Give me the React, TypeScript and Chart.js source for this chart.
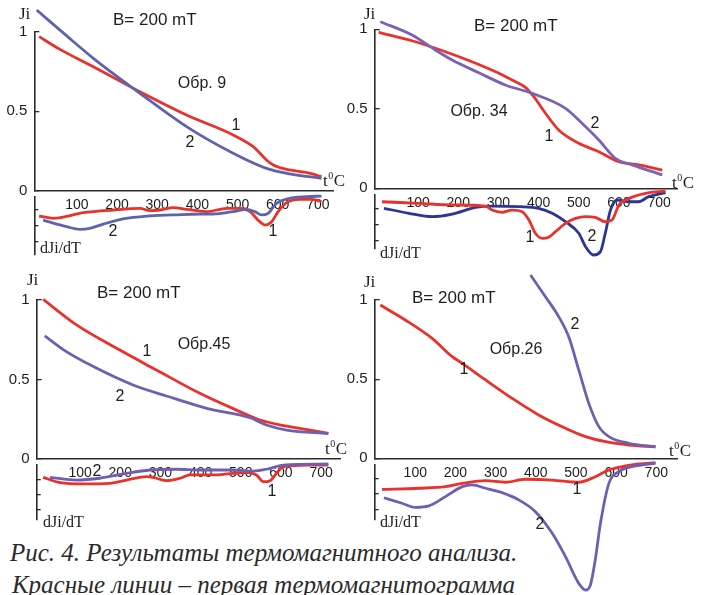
import React, { useEffect, useRef } from 'react';
import { Chart, registerables } from 'chart.js';

Chart.register(...registerables);

type Pt = [number, number];

// ---- Data: [temperature °C, value] ----
// Обр. 9
const s9Ji1: Pt[] = [[6,0.969],[58,0.889],[141,0.780],[257,0.623],[373,0.477],[489,0.352],[539,0.278],[572,0.195],[589,0.163],[630,0.132],[681,0.111],[709,0.090]];
const s9Ji2: Pt[] = [[0,1.136],[74,0.975],[141,0.833],[257,0.613],[373,0.404],[489,0.237],[572,0.142],[630,0.107],[709,0.080]];
const s9d1: Pt[] = [[6,-1.38],[41,-1.52],[116,-1.17],[190,-1.0],[257,-0.9],[282,-1.04],[307,-1.0],[340,-0.85],[373,-0.96],[423,-1.1],[473,-0.9],[506,-0.9],[531,-1.1],[551,-1.63],[568,-1.94],[585,-1.73],[601,-1.1],[622,-0.54],[655,-0.33],[684,-0.33],[709,-0.48]];
const s9d2: Pt[] = [[16,-1.63],[74,-2.04],[108,-2.21],[132,-2.15],[166,-1.88],[215,-1.56],[274,-1.38],[340,-1.31],[406,-1.25],[439,-1.25],[489,-1.1],[523,-0.96],[543,-1.1],[560,-1.31],[576,-1.21],[597,-0.58],[630,-0.27],[672,-0.17],[709,-0.13]];
// Обр. 34
const s34Ji1: Pt[] = [[2,0.981],[85,0.928],[168,0.859],[234,0.796],[293,0.733],[334,0.681],[367,0.635],[388,0.576],[417,0.472],[450,0.367],[500,0.283],[550,0.230],[600,0.167],[649,0.147],[708,0.115]];
const s34Ji2: Pt[] = [[6,1.048],[85,0.964],[143,0.870],[185,0.807],[251,0.727],[317,0.650],[384,0.597],[467,0.503],[508,0.409],[550,0.304],[591,0.189],[633,0.147],[708,0.084]];
const s34d1: Pt[] = [[10,-0.59],[102,-0.69],[185,-0.79],[268,-0.86],[284,-1.11],[309,-1.25],[334,-1.11],[359,-1.21],[376,-1.73],[392,-2.56],[409,-2.88],[425,-2.81],[442,-2.46],[467,-1.94],[492,-1.63],[517,-1.52],[541,-1.56],[566,-1.84],[583,-1.73],[600,-0.79],[625,-0.38],[666,-0.06],[716,0.08]];
const s34d2: Pt[] = [[15,-1.0],[77,-1.31],[135,-1.52],[185,-1.36],[243,-0.94],[284,-0.86],[351,-0.9],[400,-1.0],[434,-1.31],[467,-1.84],[500,-2.56],[517,-3.40],[537,-3.92],[554,-3.71],[566,-2.56],[579,-1.11],[595,-0.48],[625,-0.59],[649,-0.59],[674,-0.27],[716,-0.02]];
// Обр.45
const s45Ji1: Pt[] = [[8,1.004],[91,0.843],[191,0.696],[290,0.560],[398,0.413],[498,0.298],[548,0.245],[597,0.214],[647,0.193],[718,0.161]];
const s45Ji2: Pt[] = [[12,0.774],[66,0.675],[133,0.581],[232,0.465],[315,0.396],[415,0.319],[523,0.260],[564,0.214],[614,0.182],[718,0.161]];
const s45d1: Pt[] = [[8,-0.87],[50,-1.22],[108,-1.31],[174,-1.27],[216,-1.05],[266,-0.82],[290,-0.93],[315,-1.09],[349,-0.93],[373,-0.71],[431,-0.71],[481,-0.60],[515,-0.56],[539,-0.71],[556,-1.16],[573,-1.09],[589,-0.60],[606,-0.16],[664,-0.05],[718,-0.05]];
const s45d2: Pt[] = [[25,-0.87],[91,-1.05],[149,-0.93],[216,-0.60],[274,-0.38],[340,-0.33],[398,-0.38],[481,-0.38],[531,-0.45],[564,-0.33],[606,-0.05],[718,0.02]];
// Обр.26
const s26Ji1: Pt[] = [[13,0.968],[75,0.874],[142,0.758],[192,0.642],[217,0.600],[275,0.495],[341,0.379],[407,0.274],[474,0.190],[524,0.137],[574,0.105],[632,0.084],[698,0.073]];
const s26Ji2: Pt[] = [[387,1.158],[424,1.021],[457,0.895],[482,0.768],[507,0.558],[532,0.347],[557,0.200],[582,0.137],[632,0.095],[698,0.073]];
const s26d1: Pt[] = [[17,-1.70],[109,-1.63],[175,-1.53],[217,-1.32],[275,-1.15],[324,-1.25],[374,-1.06],[441,-1.11],[507,-1.25],[548,-0.90],[582,-0.47],[623,-0.22],[656,-0.09],[698,-0.01]];
const s26d2: Pt[] = [[22,-2.23],[67,-2.58],[100,-2.84],[134,-2.75],[175,-2.16],[217,-1.53],[241,-1.42],[275,-1.63],[316,-1.91],[358,-2.37],[399,-3.11],[441,-4.48],[474,-5.96],[507,-7.65],[524,-8.07],[536,-7.75],[548,-6.17],[561,-3.85],[582,-1.32],[607,-0.58],[648,-0.22],[698,-0.05]];

const xTickValues = [100, 200, 300, 400, 500, 600, 700];
const jiTickValues = [0, 0.5, 1];
const dTickValues = [-1, -2, -3];
const sampleNames = ['Обр. 9', 'Обр. 34', 'Обр.45', 'Обр.26'];
const fieldLabel = 'B= 200 mT';
const captionLines = [
  'Рис. 4. Результаты термомагнитного анализа.',
  'Красные линии – первая термомагнитограмма',
];

// ---- styling / layout ----
const SANS = '"Liberation Sans", Arial, sans-serif';
const SERIF = '"Liberation Serif", "Times New Roman", serif';
const RED = '#e8322b';
const AXIS = '#2b2b2b';
const AXW = 30;          // width reserved for the left axes
const PXD = 0.4017;      // pixels per degree

interface Series { pts: Pt[]; axis: 'y' | 'yd'; color: string; }
interface Panel {
  left: number; top: number; w: number; h: number;
  axisX: number; jiTop: number; jiBottom: number; ydTop: number; ydBottom: number;
  xRight: number; xMin: number; dZero: number; dUnit: number;
  series: Series[];
  name: string; nameAt: [number, number]; titleAt: [number, number];
  jiAt: [number, number]; tcAt: [number, number]; dAt: [number, number];
  curveLabels: [string, number, number][];
}

const panels: Panel[] = [
  {
    left: 0, top: 0, w: 352, h: 282,
    axisX: 34.3, jiTop: 31.7, jiBottom: 191, ydTop: 197, ydBottom: 255,
    xRight: 333, xMin: -6, dZero: 194, dUnit: 16,
    series: [
      { pts: s9Ji2, axis: 'y', color: '#5f63ad' }, { pts: s9Ji1, axis: 'y', color: RED },
      { pts: s9d2, axis: 'yd', color: '#5f63ad' }, { pts: s9d1, axis: 'yd', color: RED },
    ],
    name: sampleNames[0], nameAt: [202, 84], titleAt: [113, 20], jiAt: [19, 15], tcAt: [323, 180], dAt: [40, 249],
    curveLabels: [['1', 236, 126], ['2', 190, 143], ['1', 273, 232], ['2', 113, 232]],
  },
  {
    left: 340, top: 0, w: 365, h: 282,
    axisX: 374.7, jiTop: 29.3, jiBottom: 188.3, ydTop: 195, ydBottom: 248.3,
    xRight: 677, xMin: -8, dZero: 192.3, dUnit: 16,
    series: [
      { pts: s34Ji2, axis: 'y', color: '#7a63b6' }, { pts: s34Ji1, axis: 'y', color: RED },
      { pts: s34d1, axis: 'yd', color: RED }, { pts: s34d2, axis: 'yd', color: '#2b3594' },
    ],
    name: sampleNames[1], nameAt: [479, 112], titleAt: [474, 26], jiAt: [364, 15], tcAt: [672, 182], dAt: [380, 254],
    curveLabels: [['1', 549, 137], ['2', 595, 124], ['1', 530, 238], ['2', 592, 237]],
  },
  {
    left: 0, top: 270, w: 352, h: 292,
    axisX: 36.7, jiTop: 300, jiBottom: 459, ydTop: 465, ydBottom: 520,
    xRight: 340, xMin: -8, dZero: 464.3, dUnit: 15,
    series: [
      { pts: s45Ji2, axis: 'y', color: '#6f5fb3' }, { pts: s45Ji1, axis: 'y', color: RED },
      { pts: s45d2, axis: 'yd', color: '#6f5fb3' }, { pts: s45d1, axis: 'yd', color: RED },
    ],
    name: sampleNames[2], nameAt: [204, 345], titleAt: [97, 293], jiAt: [27, 281], tcAt: [325, 448], dAt: [43, 523],
    curveLabels: [['1', 147, 352], ['2', 120, 397], ['1', 272, 492], ['2', 97, 472]],
  },
  {
    left: 340, top: 270, w: 365, h: 325,
    axisX: 374.7, jiTop: 300, jiBottom: 458.3, ydTop: 465, ydBottom: 520,
    xRight: 677, xMin: -1, dZero: 462.5, dUnit: 15.8,
    series: [
      { pts: s26Ji2, axis: 'y', color: '#6f5fb3' }, { pts: s26Ji1, axis: 'y', color: RED },
      { pts: s26d2, axis: 'yd', color: '#6f5fb3' }, { pts: s26d1, axis: 'yd', color: RED },
    ],
    name: sampleNames[3], nameAt: [516, 350], titleAt: [412, 298], jiAt: [364, 283], tcAt: [669, 450], dAt: [380, 523],
    curveLabels: [['2', 575, 325], ['1', 464, 370], ['1', 577, 490], ['2', 540, 525]],
  },
];

function PanelChart({ p }: { p: Panel }) {
  const ref = useRef<HTMLCanvasElement>(null);
  useEffect(() => {
    const canvas = ref.current;
    if (!canvas) return;
    const padL = p.axisX - p.left - AXW;
    const padT = p.jiTop - p.top;
    const padR = p.left + p.w - p.xRight;
    const padB = p.top + p.h - p.ydBottom;
    const xMax = p.xMin + (p.xRight - p.axisX) / PXD;
    const ydMax = -(p.ydTop - p.dZero) / p.dUnit;
    const ydMin = -(p.ydBottom - p.dZero) / p.dUnit;
    const ox = p.left, oy = p.top;

    const textPlugin = {
      id: 'panelText',
      afterDraw(chart: any) {
        const ctx: CanvasRenderingContext2D = chart.ctx;
        ctx.save();
        ctx.fillStyle = '#1e1e1e';
        ctx.textBaseline = 'middle';
        const put = (t: string, x: number, y: number, font: string, align: CanvasTextAlign) => {
          ctx.font = font; ctx.textAlign = align; ctx.fillText(t, x - ox, y - oy);
        };
        put(fieldLabel, p.titleAt[0], p.titleAt[1], `17px ${SANS}`, 'left');
        put(p.name, p.nameAt[0], p.nameAt[1], `16px ${SANS}`, 'center');
        for (const [t, x, y] of p.curveLabels) put(t, x, y, `16px ${SANS}`, 'center');
        put('Ji', p.jiAt[0], p.jiAt[1], `17px ${SERIF}`, 'left');
        put('dJi/dT', p.dAt[0], p.dAt[1], `16px ${SERIF}`, 'left');
        // t⁰C
        ctx.textAlign = 'left';
        ctx.textBaseline = 'alphabetic';
        const bx = p.tcAt[0] - ox, by = p.tcAt[1] - oy + 6;
        ctx.font = `17px ${SERIF}`;
        ctx.fillText('t', bx, by);
        const wt = ctx.measureText('t').width;
        ctx.font = `10px ${SERIF}`;
        ctx.fillText('0', bx + wt + 0.5, by - 7);
        const w0 = ctx.measureText('0').width;
        ctx.font = `17px ${SERIF}`;
        ctx.fillText('C', bx + wt + w0 + 1, by);
        ctx.restore();
      },
    };

    const fixW = (s: any) => { s.width = AXW; };

    const chart = new Chart(canvas, {
      type: 'line',
      data: {
        datasets: p.series.map((s) => ({
          data: s.pts.map(([x, y]) => ({ x, y })),
          xAxisID: 'x',
          yAxisID: s.axis,
          borderColor: s.color,
          backgroundColor: s.color,
          borderWidth: 2.8,
          pointRadius: 0,
          fill: false,
          cubicInterpolationMode: 'monotone' as const,
          clip: false as any,
        })),
      },
      options: {
        animation: false,
        responsive: false,
        devicePixelRatio: 1,
        events: [],
        layout: { padding: { left: padL, top: padT, right: padR, bottom: padB } },
        plugins: { legend: { display: false }, tooltip: { enabled: false }, title: { display: false } },
        scales: {
          x: {
            type: 'linear', min: p.xMin, max: xMax,
            position: { y: 0 } as any,
            grid: { display: false, drawTicks: false },
            border: { display: true, color: AXIS, width: 1.6 },
            afterBuildTicks: (s: any) => { s.ticks = xTickValues.map((v) => ({ value: v })); },
            ticks: { autoSkip: false, maxRotation: 0, padding: 6, color: '#1e1e1e', font: { family: SANS, size: 14 } },
          },
          y: {
            type: 'linear', position: 'left', stack: 'p', stackWeight: p.jiBottom - p.jiTop, weight: 3,
            min: 0, max: 1,
            afterBuildTicks: (s: any) => { s.ticks = jiTickValues.map((v) => ({ value: v })); },
            afterFit: fixW,
            ticks: { padding: 12, color: '#1e1e1e', font: { family: SANS, size: 15 }, callback: (v: any) => String(v) },
            grid: { display: true, drawOnChartArea: false, drawTicks: true, tickLength: -5, color: AXIS, lineWidth: 1.3 },
            border: { display: true, color: AXIS, width: 1.6 },
          },
          gap: {
            type: 'linear', axis: 'y', position: 'left', stack: 'p', stackWeight: p.ydTop - p.jiBottom, weight: 2,
            min: 0, max: 1,
            afterFit: fixW,
            ticks: { display: false },
            grid: { display: false, drawTicks: false },
            border: { display: false },
          } as any,
          yd: {
            type: 'linear', position: 'left', stack: 'p', stackWeight: p.ydBottom - p.ydTop, weight: 1,
            min: ydMin, max: ydMax,
            afterBuildTicks: (s: any) => { s.ticks = dTickValues.map((v) => ({ value: v })); },
            afterFit: fixW,
            ticks: { display: false },
            grid: { display: true, drawOnChartArea: false, drawTicks: true, tickLength: -4, color: AXIS, lineWidth: 1.3 },
            border: { display: true, color: AXIS, width: 1.6 },
          },
        },
      },
      plugins: [textPlugin],
    } as any);
    return () => chart.destroy();
  }, [p]);
  return (
    <canvas
      ref={ref}
      width={p.w}
      height={p.h}
      style={{ position: 'absolute', left: p.left, top: p.top, width: p.w, height: p.h }}
    />
  );
}

export default function App() {
  return (
    <div style={{ position: 'absolute', left: 0, top: 0, width: 705, height: 595, overflow: 'hidden', background: '#ffffff' }}>
      <div style={{ position: 'absolute', left: 10, top: 540, fontFamily: SERIF, fontStyle: 'italic', fontSize: 25, lineHeight: '25px', color: '#2a2a2a', whiteSpace: 'nowrap' }}>
        {captionLines[0]}
      </div>
      <div style={{ position: 'absolute', left: 12, top: 572, fontFamily: SERIF, fontStyle: 'italic', fontSize: 25, lineHeight: '25px', color: '#2a2a2a', whiteSpace: 'nowrap' }}>
        {captionLines[1]}
      </div>
      {panels.map((p, i) => <PanelChart key={i} p={p} />)}
    </div>
  );
}
